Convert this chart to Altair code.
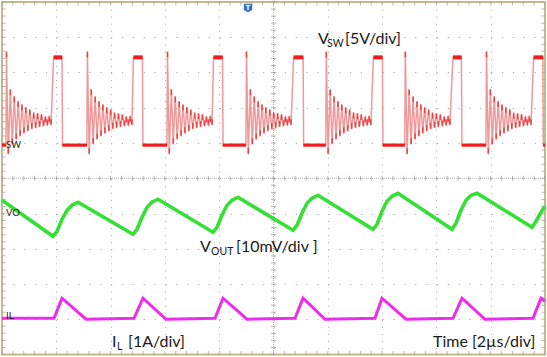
import altair as alt
import pandas as pd

# ---------------- data (time in µs, 2 µs/div; vertical in screen divisions) ----------------
# Switch node (V_SW) trace
sw_rise = [1.88, 4.82, 7.77, 10.72, 13.66, 16.59, 19.56]
sw_fall = [2.22, 5.18, 8.13, 11.10, 14.02, 16.93, 19.93]
sw_ring_start = [0.15, 3.13, 6.08, 8.99, 11.93, 14.84, 17.83]
sw_high = 3.43
sw_low = 0.94
ring_peak_dt = [0.015, 0.158, 0.302, 0.446, 0.586, 0.729, 0.873, 1.017, 1.160, 1.304, 1.448, 1.591]
ring_peak_v = [3.57, 2.50, 2.30, 2.16, 2.07, 1.99, 1.93, 1.84, 1.82, 1.79, 1.73, 1.73]
ring_trough_dt = [0.081, 0.228, 0.372, 0.516, 0.659, 0.803, 0.947, 1.090, 1.234, 1.378, 1.521, 1.657]
ring_trough_v = [0.71, 0.99, 1.13, 1.22, 1.30, 1.36, 1.42, 1.45, 1.48, 1.50, 1.53, 1.53]

# Output voltage ripple (V_OUT) trace
vo_t = [0.0, 1.878, 2.026, 2.210, 2.394, 2.578, 2.799,
        4.825, 4.972, 5.157, 5.341, 5.525, 5.746,
        7.772, 7.919, 8.103, 8.287, 8.471, 8.692,
        10.718, 10.866, 11.050, 11.234, 11.418, 11.639,
        13.665, 13.812, 13.996, 14.180, 14.365, 14.586,
        16.575, 16.722, 16.906, 17.090, 17.274, 17.495,
        19.521, 19.669, 19.853, 20.0]
vo_v = [-0.624, -1.645, -1.504, -1.163, -0.908, -0.766, -0.681,
        -1.589, -1.447, -1.106, -0.823, -0.681, -0.596,
        -1.532, -1.390, -1.050, -0.766, -0.624, -0.539,
        -1.475, -1.333, -0.993, -0.709, -0.567, -0.482,
        -1.447, -1.305, -0.936, -0.652, -0.511, -0.426,
        -1.447, -1.277, -0.908, -0.624, -0.482, -0.426,
        -1.390, -1.220, -0.965, -0.794]

# Inductor current (I_L) trace
il_t = [0.0, 1.915, 2.210, 3.094, 4.862, 5.193, 6.041, 7.845, 8.140, 9.024,
        10.792, 11.087, 11.897, 13.738, 13.996, 14.880, 16.611, 16.943, 17.790,
        19.558, 19.853, 20.0]
il_v = [-3.972, -3.972, -3.404, -4.000, -3.972, -3.404, -4.000, -3.972, -3.404, -4.000,
        -3.972, -3.404, -4.000, -3.972, -3.404, -4.000, -3.972, -3.404, -4.000,
        -3.972, -3.404, -3.490]

grid_x = [2, 4, 6, 8, 10, 12, 14, 16, 18]
grid_y = [-4, -3, -2, -1, 0, 1, 2, 3, 4]
minor_x = [round(0.4 * i, 2) for i in range(51)]
minor_y = [round(0.2 * i - 5, 2) for i in range(51)]

# ---------------- build tables ----------------
sw_pts = [(0.0, sw_low)]
ring = sorted(list(zip(ring_peak_dt, ring_peak_v)) + list(zip(ring_trough_dt, ring_trough_v)))
ext_rows = []
for k in range(len(sw_rise)):
    s, r, f = sw_ring_start[k], sw_rise[k], sw_fall[k]
    sw_pts.append((s - 0.005, sw_low))
    for dt, v in ring:
        if s + dt < r:
            sw_pts.append((s + dt, v))
    for dt, v in zip(ring_peak_dt, ring_peak_v):
        if s + dt < r:
            ext_rows.append({"t": s + dt, "v": v, "kind": "peak"})
    for dt, v in zip(ring_trough_dt, ring_trough_v):
        if s + dt < r:
            ext_rows.append({"t": s + dt, "v": v, "kind": "trough"})
    sw_pts.append((r + 0.02, sw_high))
    sw_pts.append((f - 0.01, sw_high))
    sw_pts.append((f + 0.01, sw_low))
sw_pts.append((20.0, sw_low))
sw_df = pd.DataFrame({"t": [p[0] for p in sw_pts], "v": [p[1] for p in sw_pts],
                      "i": list(range(len(sw_pts)))})
ext_df = pd.DataFrame(ext_rows)

next_start = sw_ring_start[1:] + [20.0]
high_df = pd.DataFrame({"t": [r + 0.02 for r in sw_rise], "t2": sw_fall, "v": [sw_high] * len(sw_rise)})
low_df = pd.DataFrame({"t": sw_fall, "t2": next_start, "v": [sw_low] * len(sw_fall)})
low0_df = pd.DataFrame({"t": [0.0], "t2": [sw_ring_start[0]], "v": [sw_low]})
low_df = pd.concat([low0_df, low_df], ignore_index=True)

vo_df = pd.DataFrame({"t": vo_t, "v": vo_v, "i": list(range(len(vo_t)))})
il_df = pd.DataFrame({"t": il_t, "v": il_v, "i": list(range(len(il_t)))})

GRID = "#a9a9a9"
xs = alt.Scale(domain=[0, 20], nice=False, zero=False)
ys = alt.Scale(domain=[-5, 5], nice=False, zero=False)
X = alt.X("t:Q", scale=xs, axis=alt.Axis(values=grid_x, grid=True, gridDash=[1, 6.05], gridColor=GRID,
                                          gridWidth=1, labels=False, ticks=False, domain=False, title=None))
Y = alt.Y("v:Q", scale=ys, axis=alt.Axis(values=grid_y, grid=True, gridDash=[1.2, 9.66], gridColor=GRID,
                                          gridWidth=1, labels=False, ticks=False, domain=False, title=None))

# center cross lines and minor ticks
cx_df = pd.DataFrame({"t": [10.0]})
cy_df = pd.DataFrame({"v": [0.0]})
center_v = alt.Chart(cx_df).mark_rule(color="#b5b5b5", strokeWidth=1, strokeDash=[1, 1]).encode(x=alt.X("t:Q", scale=xs))
center_h = alt.Chart(cy_df).mark_rule(color="#b5b5b5", strokeWidth=1, strokeDash=[1, 1]).encode(y=alt.Y("v:Q", scale=ys))

mx = pd.DataFrame({"t": minor_x})
my = pd.DataFrame({"v": minor_y})
tick_style = dict(color="#9a9a9a", thickness=1)
ticks_cx = alt.Chart(mx).mark_tick(orient="vertical", size=5, **tick_style).encode(
    x=alt.X("t:Q", scale=xs), y=alt.datum(0))
ticks_cy = alt.Chart(my).mark_tick(orient="horizontal", size=5, **tick_style).encode(
    y=alt.Y("v:Q", scale=ys), x=alt.datum(10))
ticks_top = alt.Chart(mx).mark_tick(orient="vertical", size=7, clip=True, **tick_style).encode(
    x=alt.X("t:Q", scale=xs), y=alt.datum(5))
ticks_bot = alt.Chart(mx).mark_tick(orient="vertical", size=7, clip=True, **tick_style).encode(
    x=alt.X("t:Q", scale=xs), y=alt.datum(-5))
ticks_left = alt.Chart(my).mark_tick(orient="horizontal", size=7, clip=True, **tick_style).encode(
    y=alt.Y("v:Q", scale=ys), x=alt.datum(0))
ticks_right = alt.Chart(my).mark_tick(orient="horizontal", size=7, clip=True, **tick_style).encode(
    y=alt.Y("v:Q", scale=ys), x=alt.datum(20))

RED = "#ee1c1c"
PINK = "#ef9a9a"
GREEN = "#35e035"
MAGENTA = "#ee2cee"

sw_line = alt.Chart(sw_df).mark_line(color=PINK, strokeWidth=1.5).encode(x=X, y=Y, order="i:Q")
sw_peaks = alt.Chart(ext_df[ext_df.kind == "peak"]).mark_tick(
    orient="vertical", size=6, thickness=1.6, color=RED, yOffset=2).encode(x=X, y=Y)
sw_troughs = alt.Chart(ext_df[ext_df.kind == "trough"]).mark_tick(
    orient="vertical", size=6, thickness=1.6, color=RED, yOffset=-2).encode(x=X, y=Y)
sw_highr = alt.Chart(high_df).mark_rule(color=RED, strokeWidth=4).encode(x=X, x2="t2:Q", y=Y)
sw_lowr = alt.Chart(low_df).mark_rule(color=RED, strokeWidth=3.2).encode(x=X, x2="t2:Q", y=Y)

vo_line = alt.Chart(vo_df).mark_line(color=GREEN, strokeWidth=3.6).encode(x=X, y=Y, order="i:Q")
il_line = alt.Chart(il_df).mark_line(color=MAGENTA, strokeWidth=3).encode(x=X, y=Y, order="i:Q")

one = pd.DataFrame({"a": [0]})
TXT = "#1a1a1a"


def label(text, x, y, size, color=TXT, font="Lato", weight="normal"):
    return alt.Chart(one).mark_text(text=text, align="left", baseline="alphabetic", font=font,
                                    fontSize=size, color=color, fontWeight=weight).encode(
        x=alt.value(x), y=alt.value(y))


labels = [
    label("V", 316, 42, 16), label("SW", 325, 45, 10.5), label("[5V/div]", 343, 42, 16),
    label("V", 198, 250, 16), label("OUT", 209, 253, 10.5), label("[10mV/div ]", 234, 250, 16),
    label("I", 110, 345, 16), label("L", 115, 348, 10.5), label("[1A/div]", 126, 345, 16),
    label("Time [2µs/div]", 431, 345, 16),
    label("SW", 4, 146, 9.5, color="#222222"),
    label("VO", 4, 214, 9.5, color="#222222"),
    label("IL", 4, 317, 9.5, color="#222222"),
]

trig = alt.Chart(one).mark_point(shape="M-1,-1L1,-1L1,0.5L0,1L-1,0.5Z", filled=True, size=70,
                                 color="#2f6fd0", opacity=1).encode(x=alt.value(246), y=alt.value(6))
trig_t = alt.Chart(one).mark_text(text="T", font="DejaVu Sans", fontSize=7, fontWeight="bold",
                                  color="white").encode(x=alt.value(246), y=alt.value(6))

chart = alt.layer(
    center_v, center_h, ticks_cx, ticks_cy, ticks_top, ticks_bot, ticks_left, ticks_right,
    sw_line, sw_peaks, sw_troughs, sw_highr, sw_lowr, vo_line, il_line,
    *labels, trig, trig_t
).properties(
    width=543, height=352.5,
    autosize=alt.AutoSizeParams(type="none"),
    padding={"left": 2, "top": 2, "right": 2, "bottom": 2.5},
    background="white",
).configure_view(stroke="#c8b88c", strokeWidth=2)

chart.save("out.html", embed_options={"renderer": "svg", "actions": False})
